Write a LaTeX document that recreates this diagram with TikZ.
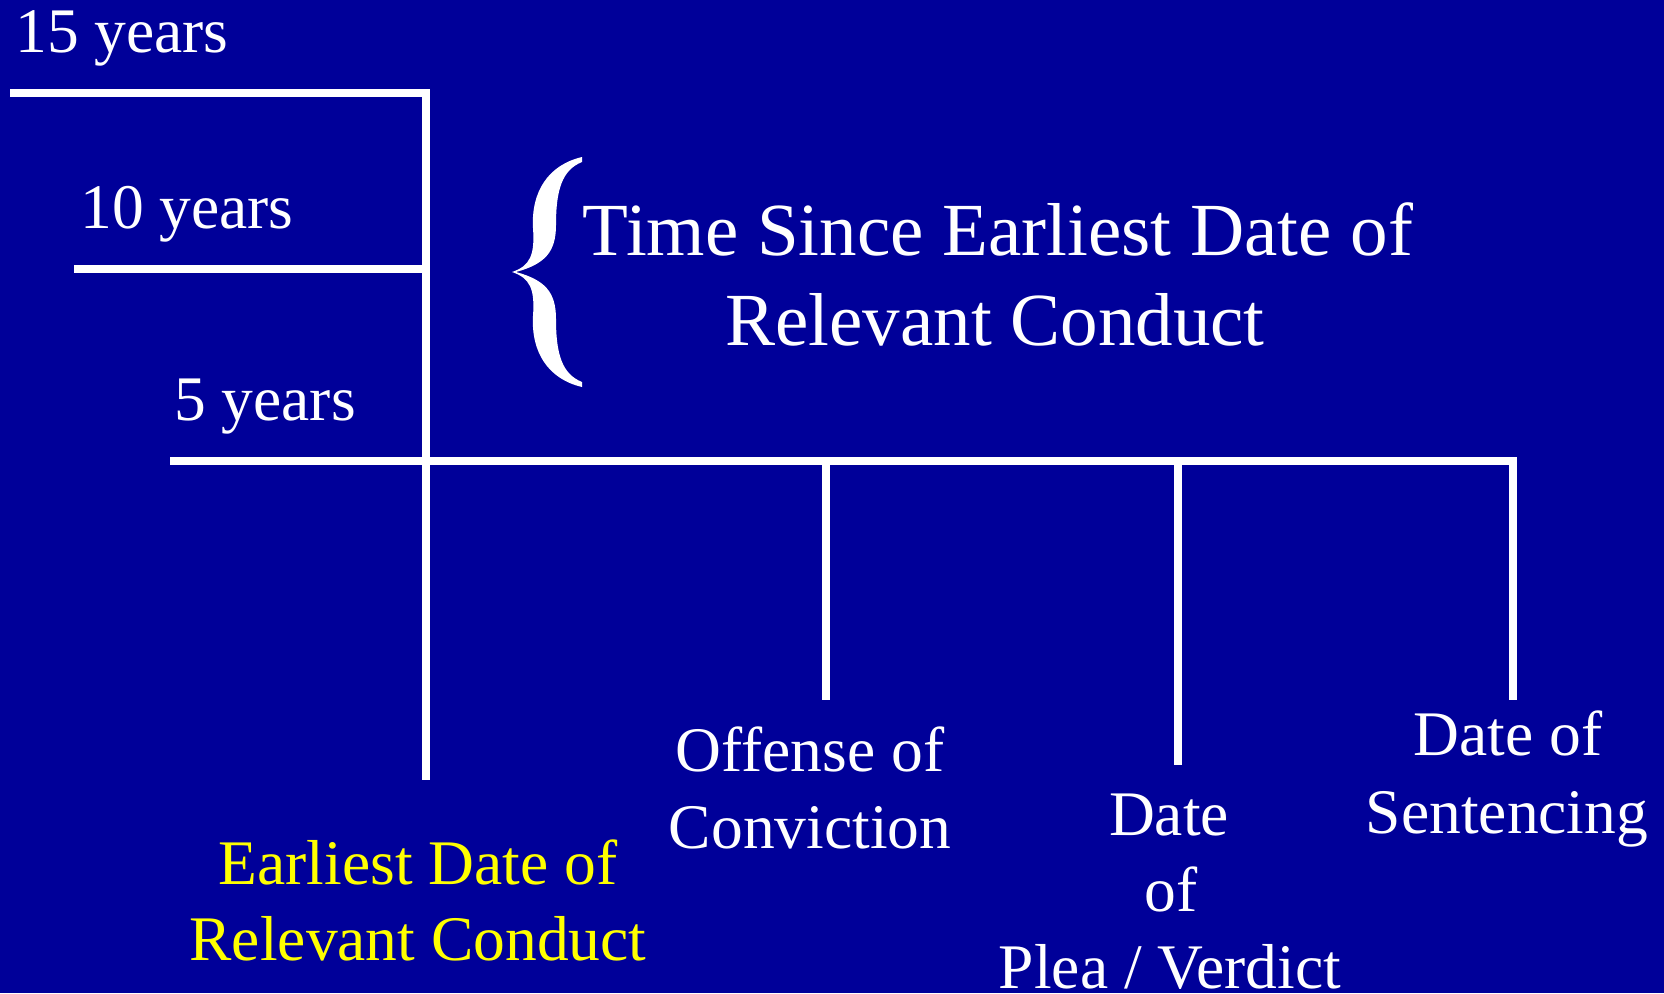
\documentclass[tikz,border=0pt]{standalone}
\usepackage{fontspec}
\setmainfont{Liberation Serif}
\definecolor{bgblue}{RGB}{0,0,153}
\definecolor{ylw}{RGB}{255,255,0}
\tikzset{
  tl/.style={line width=8pt, draw=white, line cap=butt, line join=miter},
  lbl/.style={anchor=base, inner sep=0pt, text=white, font=\fontsize{63.5}{76}\selectfont},
  ttl/.style={anchor=base, inner sep=0pt, text=white, font=\fontsize{75}{90}\selectfont},
  ylbl/.style={lbl, text=ylw}
}
\begin{document}
\begin{tikzpicture}[x=1pt,y=-1pt]
\fill[bgblue] (0,0) rectangle (1664,993);
\useasboundingbox (0,0) rectangle (1664,993);
% coordinates
\coordinate (a15) at (10,93);
\coordinate (v15) at (426,93);
\coordinate (a10) at (74,269);
\coordinate (v10) at (426,269);
\coordinate (a5) at (170,461);
\coordinate (vend) at (426,780);
\coordinate (o1) at (826,461);
\coordinate (o2) at (826,700);
\coordinate (p1) at (1178,461);
\coordinate (p2) at (1178,765);
\coordinate (s1) at (1513,461);
\coordinate (s2) at (1513,700);
% lines
\draw[tl] (a15) -- (v15) -- (vend);
\draw[tl] (a10) -- (v10);
\draw[tl] (a5) -- (s1) -- (s2);
\draw[tl] (o1) -- (o2);
\draw[tl] (p1) -- (p2);
% brace
\fill[white] (582,157) .. controls (548,165) and (531,192) .. (533,228)
  .. controls (535,255) and (530,266) .. (512,272)
  .. controls (530,278) and (535,289) .. (533,316)
  .. controls (531,352) and (548,379) .. (582,387)
  -- (582,382)
  .. controls (562,374) and (556,354) .. (556,319)
  .. controls (556,292) and (545,280) .. (516,272)
  .. controls (545,264) and (556,252) .. (556,225)
  .. controls (556,190) and (562,170) .. (582,162) -- cycle;
% labels
\node[lbl] (y15) at (122,52) {15 years};
\node[lbl] (y10) at (187,228) {10 years};
\node[lbl] (y5) at (265,420) {5 years};
\node[ttl] (t1) at (998,255) {Time Since Earliest Date of};
\node[ttl] (t2) at (995,345) {Relevant Conduct};
\node[ylbl] (e1) at (418,884) {Earliest Date of};
\node[ylbl] (e2) at (418,960) {Relevant Conduct};
\node[lbl] (c1) at (810,771) {Offense of};
\node[lbl] (c2) at (810,848) {Conviction};
\node[lbl] (d1) at (1169,835) {Date};
\node[lbl] (d2) at (1171,911) {of};
\node[lbl] (d3) at (1170,988) {Plea / Verdict};
\node[lbl] (s1t) at (1508,755) {Date of};
\node[lbl] (s2t) at (1507,833) {Sentencing};
\end{tikzpicture}
\end{document}
